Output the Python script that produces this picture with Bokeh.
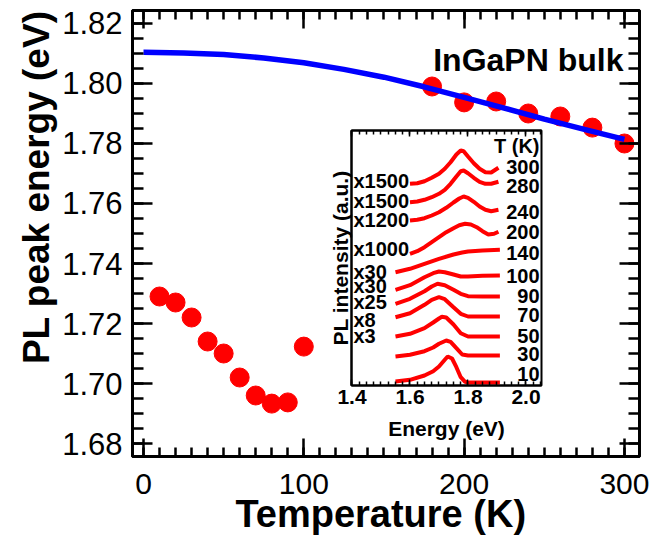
from bokeh.plotting import figure
from bokeh.models import (Range1d, LinearAxis, SingleIntervalTicker, PrintfTickFormatter,
                          CustomJSTickFormatter, Label)
from bokeh.layouts import column
from bokeh.embed import file_html
from bokeh.resources import INLINE
from bokeh.core.properties import value

FONT = "Liberation Sans"
NBSP = "\u00a0"

# ---------------- main panel data ----------------
temp_low = [10, 20, 30, 40, 50, 60, 70, 80, 90, 100]
peak_low = [1.729, 1.727, 1.722, 1.714, 1.710, 1.702, 1.696, 1.6933, 1.6937, 1.7123]
temp_high = [180, 200, 220, 240, 260, 280, 300]
peak_high = [1.799, 1.7937, 1.794, 1.790, 1.789, 1.7853, 1.780]
fit_temp = [0, 25, 50, 75, 100, 125, 150, 175, 200, 225, 250, 275, 300]
fit_energy = [1.8104, 1.8102, 1.8097, 1.8085, 1.8069, 1.8047, 1.8021, 1.7989,
              1.7954, 1.7918, 1.7881, 1.7847, 1.7814]

# ---------------- inset data (PL spectra, vertically offset) ----------------
spectra = {
    "10": ([1.55, 1.60, 1.65, 1.68, 1.70, 1.72, 1.73, 1.745, 1.76, 1.775, 1.79, 1.80, 1.85, 1.91],
           [4.0, 5.7, 10.0, 14.3, 19.0, 25.7, 29.0, 27.0, 18.3, 8.3, 3.7, 3.0, 3.0, 3.0]),
    "30": ([1.55, 1.60, 1.65, 1.68, 1.70, 1.725, 1.74, 1.76, 1.78, 1.80, 1.85, 1.91],
           [29.0, 30.7, 34.3, 38.0, 41.7, 45.0, 43.7, 37.3, 31.0, 30.0, 30.0, 30.0]),
    "50": ([1.55, 1.60, 1.65, 1.68, 1.70, 1.71, 1.725, 1.75, 1.775, 1.80, 1.85, 1.91],
           [49.0, 51.7, 57.3, 63.0, 67.0, 68.7, 68.0, 61.0, 52.3, 49.0, 49.0, 49.0]),
    "70": ([1.55, 1.60, 1.65, 1.675, 1.70, 1.72, 1.75, 1.775, 1.80, 1.85, 1.91],
           [68.3, 72.3, 80.7, 85.7, 88.3, 86.3, 78.3, 71.7, 69.0, 69.0, 69.0]),
    "90": ([1.55, 1.60, 1.65, 1.675, 1.695, 1.72, 1.75, 1.775, 1.80, 1.85, 1.91],
           [81.7, 86.7, 94.3, 99.0, 101.7, 100.3, 95.7, 91.7, 89.3, 89.0, 89.0]),
    "100": ([1.55, 1.60, 1.65, 1.68, 1.70, 1.72, 1.75, 1.775, 1.80, 1.85, 1.91],
            [95.7, 100.3, 108.3, 112.3, 114.0, 113.3, 111.0, 109.0, 109.0, 109.7, 110.0]),
    "140": ([1.55, 1.60, 1.65, 1.70, 1.75, 1.78, 1.80, 1.85, 1.91],
            [113.3, 116.7, 121.7, 126.7, 131.0, 133.0, 134.0, 135.0, 135.7]),
    "200": ([1.60, 1.625, 1.65, 1.675, 1.70, 1.725, 1.75, 1.77, 1.79, 1.81, 1.83, 1.85, 1.87, 1.89, 1.905],
            [131.7, 134.3, 138.3, 143.3, 148.3, 153.3, 157.3, 160.3, 161.7, 161.0, 158.3, 154.3, 151.0, 151.7, 153.7]),
    "240": ([1.60, 1.625, 1.65, 1.675, 1.70, 1.725, 1.75, 1.77, 1.785, 1.80, 1.82, 1.84, 1.86, 1.88, 1.905],
            [165.0, 165.7, 167.3, 170.0, 173.3, 177.7, 183.0, 187.0, 189.0, 187.7, 183.7, 179.0, 175.7, 174.3, 175.7]),
    "280": ([1.60, 1.625, 1.65, 1.675, 1.70, 1.72, 1.74, 1.76, 1.775, 1.785, 1.80, 1.82, 1.84, 1.86, 1.88, 1.905],
            [183.3, 184.0, 185.7, 188.3, 191.7, 195.7, 201.7, 209.0, 214.3, 215.0, 212.3, 207.7, 203.7, 201.7, 201.7, 203.7]),
    "300": ([1.60, 1.625, 1.65, 1.675, 1.70, 1.72, 1.74, 1.76, 1.775, 1.785, 1.80, 1.82, 1.84, 1.86, 1.88, 1.905],
            [201.7, 202.3, 204.3, 207.7, 211.7, 216.7, 223.3, 231.0, 235.0, 234.3, 229.0, 222.3, 216.7, 213.3, 213.0, 217.7]),
}
mult_labels = ["x1500", "x1500", "x1200", "x1000", "x30", "x30", "x25", "x8", "x3"]
mult_y = [205, 185, 165.7, 136.7, 113.3, 99.3, 83.3, 65.7, 50]
temp_labels = ["T (K)", "300", "280", "240", "200", "140", "100", "90", "70", "50", "30", "10"]
temp_label_y = [240, 218.3, 200, 174, 153.3, 132.7, 110, 90, 71, 50, 31.7, 11.7]

BLANK = CustomJSTickFormatter(code="return '';")

# ---------------- main figure ----------------
p = figure(width=652, height=541, x_range=Range1d(-6.86, 309.4),
           y_range=Range1d(1.67567, 1.82433), output_backend="svg",
           toolbar_location=None, min_border_left=132, min_border_right=13,
           min_border_top=10, min_border_bottom=85)
p.frame_align = False
p.xgrid.grid_line_color = None
p.ygrid.grid_line_color = None
p.outline_line_color = "black"
p.outline_line_width = 3
p.background_fill_color = "white"

xt = SingleIntervalTicker(interval=100, num_minor_ticks=10)
yt = SingleIntervalTicker(interval=0.02, num_minor_ticks=4)


def style_axis(ax, major_len, minor_len, width=2.5, line=3):
    ax.axis_line_width = line
    ax.axis_line_color = "black"
    ax.major_tick_in = major_len
    ax.major_tick_out = 0
    ax.minor_tick_in = minor_len
    ax.minor_tick_out = 0
    ax.major_tick_line_width = width
    ax.minor_tick_line_width = width
    ax.major_tick_line_color = "black"
    ax.minor_tick_line_color = "black"


xa = p.xaxis[0]
xa.ticker = xt
xa.formatter = PrintfTickFormatter(format="%d")
style_axis(xa, 18, 9)
xa.major_label_text_font = FONT
xa.major_label_text_font_size = "30px"
xa.major_label_text_color = "black"
xa.major_label_standoff = 17
xa.axis_label = "Temperature (K)" + NBSP
xa.axis_label_text_font = FONT
xa.axis_label_text_font_style = "bold"
xa.axis_label_text_font_size = "38px"
xa.axis_label_text_color = "black"
xa.axis_label_standoff = -4

ya = p.yaxis[0]
ya.ticker = yt
ya.formatter = PrintfTickFormatter(format="%.2f")
style_axis(ya, 20, 11)
ya.major_label_text_font = FONT
ya.major_label_text_font_size = "31px"
ya.major_label_text_color = "black"
ya.major_label_standoff = 10
ya.axis_label = NBSP * 9 + "PL peak energy (eV)"
ya.axis_label_text_font = FONT
ya.axis_label_text_font_style = "bold"
ya.axis_label_text_font_size = "37px"
ya.axis_label_text_color = "black"
ya.axis_label_standoff = 2

top = LinearAxis(ticker=xt, formatter=BLANK, major_label_standoff=0)
style_axis(top, 18, 9)
p.add_layout(top, "above")
right = LinearAxis(ticker=yt, formatter=BLANK, major_label_standoff=0)
style_axis(right, 20, 11)
p.add_layout(right, "right")

p.scatter(temp_low, peak_low, size=19, color="#ff0000")
p.scatter(temp_high, peak_high, size=19, color="#ff0000")
p.line(fit_temp, fit_energy, line_width=5.5, color="#0000ff")

p.add_layout(Label(x=299.4, y=1.8077, text="InGaPN bulk", text_align="right",
                   text_baseline="alphabetic", text_font=FONT, text_font_style="bold",
                   text_font_size="32px", text_color="black"))

# ---------------- inset figure ----------------
ins = figure(width=235, height=325, x_range=Range1d(1.3983, 2.0535), y_range=Range1d(0, 255),
             output_backend="svg", toolbar_location=None, min_border_left=40,
             min_border_right=5, min_border_top=5, min_border_bottom=65)
ins.frame_align = False
ins.border_fill_color = None
ins.background_fill_color = "white"
ins.outline_line_color = "black"
ins.outline_line_width = 2
ins.xgrid.grid_line_color = None
ins.ygrid.grid_line_color = None

ixt = SingleIntervalTicker(interval=0.2, num_minor_ticks=8)
ixa = ins.xaxis[0]
ixa.ticker = ixt
ixa.formatter = PrintfTickFormatter(format="%.1f")
style_axis(ixa, 6, 4, width=1.5, line=2)
ixa.major_label_text_font = FONT
ixa.major_label_text_font_style = "bold"
ixa.major_label_text_font_size = "21px"
ixa.major_label_text_color = "black"
ixa.major_label_standoff = 4
ixa.axis_label = "Energy (eV)"
ixa.axis_label_text_font = FONT
ixa.axis_label_text_font_style = "bold"
ixa.axis_label_text_font_size = "21px"
ixa.axis_label_text_color = "black"
ixa.axis_label_standoff = 10

itop = LinearAxis(ticker=ixt, formatter=BLANK, major_label_standoff=0)
style_axis(itop, 6, 4, width=1.5, line=2)
ins.add_layout(itop, "above")

iya = ins.yaxis[0]
iya.formatter = BLANK
style_axis(iya, 0, 0, width=1.5, line=2)
iya.major_label_standoff = 0
iya.axis_label = "PL intensity (a.u.)"
iya.axis_label_text_font = FONT
iya.axis_label_text_font_style = "bold"
iya.axis_label_text_font_size = "21px"
iya.axis_label_text_color = "black"
iya.axis_label_standoff = 0

for key, (e_vals, i_vals) in spectra.items():
    ins.line(e_vals, i_vals, color="#ff0000", line_width=4)

ins.text(x=[1.405] * len(mult_labels), y=mult_y, text=mult_labels,
         text_font=value(FONT), text_font_style="bold", text_font_size="20px",
         text_align="left", text_baseline="middle", text_color="black")
ins.text(x=[2.0466] * len(temp_labels), y=temp_label_y, text=temp_labels,
         text_font=value(FONT), text_font_style="bold", text_font_size="20px",
         text_align="right", text_baseline="middle", text_color="black")

ins.margin = (-416, 0, 0, 311)
layout = column(p, ins, spacing=0)

open("out.html", "w").write(file_html(layout, INLINE))
